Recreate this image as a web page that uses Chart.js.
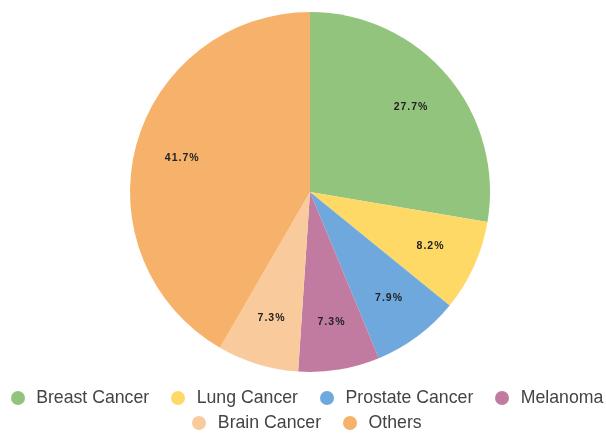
<!DOCTYPE html>
<html>
<head>
<meta charset="utf-8">
<script src="https://cdn.jsdelivr.net/npm/chart.js@4.4.1/dist/chart.umd.min.js"></script>
<style>
  body { margin: 0; background: #fff; }
  #wrap { position: relative; width: 606px; height: 433px; }
  #legend {
    position: absolute; left: 4px; top: 385px; width: 606px;
    font-family: "Liberation Sans", Arial, sans-serif; font-size: 17.7px; color: #444;
  }
  .row { display: flex; justify-content: center; column-gap: 22px; height: 25px; line-height: 25px; white-space: nowrap; }
  .item { display: flex; align-items: center; }
  .dot { width: 14px; height: 14px; border-radius: 50%; margin-right: 11.5px; }
</style>
</head>
<body>
<div id="wrap">
  <canvas id="cancerPie" width="606" height="433"></canvas>
  <div id="legend"></div>
</div>
<script>
const labels = ["Breast Cancer", "Lung Cancer", "Prostate Cancer", "Melanoma", "Brain Cancer", "Others"];
const shares = [27.7, 8.2, 7.9, 7.3, 7.3, 41.7];
const colors = ["#93c47d", "#ffd966", "#6fa8dc", "#c27ba0", "#f9cb9c", "#f6b26b"];
const legendRows = [4, 2];

// percentage text inside each slice
const sliceLabels = {
  id: "sliceLabels",
  afterDatasetsDraw(chart) {
    const ctx = chart.ctx;
    const meta = chart.getDatasetMeta(0);
    ctx.save();
    ctx.font = "bold 10.5px 'Liberation Sans', Arial, sans-serif";
    ctx.fillStyle = "#222";
    ctx.textAlign = "center";
    ctx.textBaseline = "middle";
    ctx.letterSpacing = "1px";
    meta.data.forEach((arc, i) => {
      const p = arc.getProps(["x", "y", "startAngle", "endAngle", "outerRadius"], true);
      const mid = (p.startAngle + p.endAngle) / 2;
      const r = p.outerRadius * 0.735;
      ctx.fillText(shares[i].toFixed(1) + "%", p.x + Math.cos(mid) * r, p.y + Math.sin(mid) * r);
    });
    ctx.restore();
  }
};

const chart = new Chart(document.getElementById("cancerPie"), {
  type: "pie",
  data: {
    labels: labels,
    datasets: [{
      data: shares,
      backgroundColor: colors,
      borderWidth: 0
    }]
  },
  options: {
    responsive: false,
    animation: false,
    layout: { padding: { top: 12, bottom: 61, left: 20, right: 6 } },
    plugins: {
      legend: { display: false },
      tooltip: { enabled: false }
    }
  },
  plugins: [sliceLabels]
});

// legend built from the chart's own label items
const legendBox = document.getElementById("legend");
const items = chart.options.plugins.legend.labels.generateLabels(chart);
let start = 0;
legendRows.forEach(count => {
  const row = document.createElement("div");
  row.className = "row";
  items.slice(start, start + count).forEach(it => {
    const el = document.createElement("div");
    el.className = "item";
    el.innerHTML = `<span class="dot" style="background:${it.fillStyle}"></span><span>${it.text}</span>`;
    row.appendChild(el);
  });
  legendBox.appendChild(row);
  start += count;
});
</script>
</body>
</html>
